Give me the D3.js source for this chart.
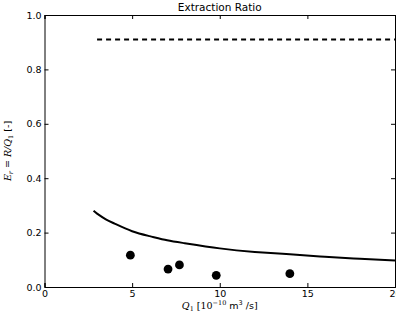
<!DOCTYPE html>
<html>
<head>
<meta charset="utf-8">
<script src="https://cdn.jsdelivr.net/npm/d3@7"></script>
<style>
  html, body { margin: 0; padding: 0; background: #fff; }
  svg { display: block; font-family: "DejaVu Sans", sans-serif; }
</style>
</head>
<body>
<div id="chart"></div>
<script>
/* Data -------------------------------------------------------------------- */

// Measured extraction ratios
const measuredQ = [4.9, 7.05, 7.7, 9.8, 14.0];
const measuredE = [0.117, 0.066, 0.081, 0.043, 0.049];

// Model curve
const modelQ = [2.8, 3.0, 3.5, 4, 5, 6, 7, 8, 10, 12, 14, 16, 18, 20];
const modelE = [0.280, 0.270, 0.249, 0.233, 0.205, 0.187, 0.172, 0.161, 0.142, 0.129, 0.120, 0.111, 0.104, 0.097];

// Upper limit (dashed)
const limitQ = [3, 20];
const limitE = [0.91, 0.91];

const xTicks = [0, 5, 10, 15, 20];
const yTicks = [0, 0.2, 0.4, 0.6, 0.8, 1.0];

/* Draw graphic ------------------------------------------------------------ */

const width = 396, height = 320;
const margin = { top: 15, right: 1, bottom: 33, left: 44.5 };

const svg = d3.select("#chart").append("svg")
    .attr("width", width)
    .attr("height", height);

svg.append("rect")
    .attr("width", width)
    .attr("height", height)
    .attr("fill", "#fff");

const x = d3.scaleLinear()
    .domain([0, 20])
    .range([margin.left, width - margin.right]);

const y = d3.scaleLinear()
    .domain([0, 1])
    .range([height - margin.bottom, margin.top]);

// Model curve
const line = d3.line()
    .x(d => x(d[0]))
    .y(d => y(d[1]))
    .curve(d3.curveNatural);

svg.append("path")
    .datum(modelQ.map((q, i) => [q, modelE[i]]))
    .attr("d", line)
    .attr("fill", "none")
    .attr("stroke", "#000")
    .attr("stroke-width", 2);

// Dashed limit
svg.append("path")
    .datum(limitQ.map((q, i) => [q, limitE[i]]))
    .attr("d", d3.line().x(d => x(d[0])).y(d => y(d[1])))
    .attr("fill", "none")
    .attr("stroke", "#000")
    .attr("stroke-width", 2)
    .attr("stroke-dasharray", "5,4");

// Measured points
svg.selectAll(".pt")
    .data(measuredQ.map((q, i) => [q, measuredE[i]]))
    .enter()
    .append("circle")
    .attr("class", "pt")
    .attr("cx", d => x(d[0]))
    .attr("cy", d => y(d[1]))
    .attr("r", 4.4)
    .attr("fill", "#000");

// Axes: ticks inward on all four sides
const tickLen = 4;
const frame = svg.append("g");

frame.append("g")
    .attr("transform", `translate(0,${y(0)})`)
    .call(d3.axisBottom(x).tickValues(xTicks).tickSize(-tickLen).tickPadding(3).tickFormat(d3.format("d")));

frame.append("g")
    .attr("transform", `translate(0,${y(1)})`)
    .call(d3.axisTop(x).tickValues(xTicks).tickSize(-tickLen).tickFormat(""));

frame.append("g")
    .attr("transform", `translate(${x(0)},0)`)
    .call(d3.axisLeft(y).tickValues(yTicks).tickSize(-tickLen).tickPadding(3).tickFormat(d3.format(".1f")));

frame.append("g")
    .attr("transform", `translate(${x(20)},0)`)
    .call(d3.axisRight(y).tickValues(yTicks).tickSize(-tickLen).tickFormat(""));

frame.selectAll(".domain")
    .attr("stroke", "#000");

frame.selectAll(".tick line")
    .attr("stroke", "#000");

frame.selectAll(".tick text")
    .attr("fill", "#000")
    .style("font-size", "9.5px")
    .style("font-family", "DejaVu Sans, sans-serif");

// Title
svg.append("text")
    .attr("x", (x(0) + x(20)) / 2)
    .attr("y", 11)
    .attr("text-anchor", "middle")
    .style("font-size", "10.5px")
    .attr("fill", "#000")
    .text("Extraction Ratio");

// X-axis title
const xt = svg.append("text")
    .attr("x", (x(0) + x(20)) / 2)
    .attr("y", 309)
    .attr("text-anchor", "middle")
    .style("font-size", "9.5px")
    .attr("fill", "#000");
xt.append("tspan").style("font-family", "DejaVu Serif, serif").style("font-style", "italic").text("Q");
xt.append("tspan").attr("dy", 2).style("font-size", "6.5px").style("font-family", "DejaVu Serif, serif").text("1");
xt.append("tspan").attr("dy", -2).style("font-family", "DejaVu Serif, serif").text(" [10");
xt.append("tspan").attr("dy", -4).style("font-size", "6.5px").style("font-family", "DejaVu Serif, serif").text("−10");
xt.append("tspan").attr("dy", 4).text("  m");
xt.append("tspan").attr("dy", -4).style("font-size", "6.5px").text("3");
xt.append("tspan").attr("dy", 4).text(" /s]");

// Y-axis title
const yt = svg.append("text")
    .attr("transform", `translate(11,${(y(0) + y(1)) / 2}) rotate(-90)`)
    .attr("text-anchor", "middle")
    .style("font-size", "9.5px")
    .attr("fill", "#000");
yt.append("tspan").style("font-family", "DejaVu Serif, serif").style("font-style", "italic").text("E");
yt.append("tspan").attr("dy", 2).style("font-size", "6.5px").style("font-family", "DejaVu Serif, serif").style("font-style", "italic").text("r");
yt.append("tspan").attr("dy", -2).style("font-family", "DejaVu Serif, serif").text(" = ");
yt.append("tspan").style("font-family", "DejaVu Serif, serif").style("font-style", "italic").text("R/Q");
yt.append("tspan").attr("dy", 2).style("font-size", "6.5px").style("font-family", "DejaVu Serif, serif").text("1");
yt.append("tspan").attr("dy", -2).text(" [-]");
</script>
</body>
</html>
